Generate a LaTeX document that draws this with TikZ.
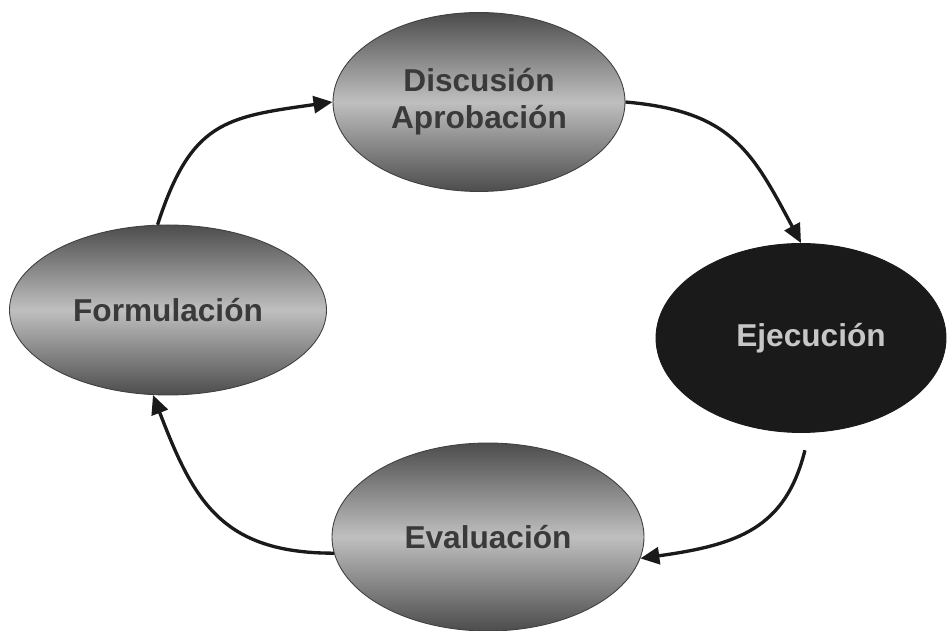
\documentclass[tikz,border=0pt]{standalone}
\usepackage{fontspec}
\setmainfont{Liberation Sans}
\usepackage{tikz}
\usetikzlibrary{arrows.meta, shapes.geometric}
\definecolor{cgray}{HTML}{3A3A3A}
\definecolor{cdark}{HTML}{1A1A1A}

\tikzset{
  stage/.style={ellipse, inner sep=0pt, line width=0.5pt, align=center,
    font=\fontsize{18}{21}\selectfont\bfseries},
  greystage/.style={stage, draw=black!75, text=cgray,
    top color=black!70, bottom color=black!70, middle color=black!25},
  darkstage/.style={stage, draw=cdark, fill=cdark, text=black!22},
  flow/.style={draw=cdark, line width=1.9pt, -{Triangle[length=0.38cm, width=0.34cm]}}
}

\begin{document}
\begin{tikzpicture}[x=1cm, y=1cm]
\useasboundingbox (0,0) rectangle (18.94,12.62);
% the four stages of the cycle
\node[greystage, minimum width=5.84cm, minimum height=3.58cm] (disc) at (9.58,10.58) {Discusión\\Aprobación};
\node[greystage, minimum width=6.34cm, minimum height=3.40cm] (form) at (3.36,6.42) {Formulación};
\node[darkstage, minimum width=5.80cm, minimum height=3.78cm] (ejec) at (16.02,5.86) {\hspace*{0.4cm}Ejecución};
\node[greystage, minimum width=6.24cm, minimum height=3.76cm] (eval) at (9.76,1.88) {Evaluación};
% arrows round the cycle
\draw[flow] (form.97) to[out=72, in=188, looseness=1.3] (disc.west);
\draw[flow] (disc.east) to[out=-5, in=118, looseness=1.2] (ejec.north);
\draw[flow, shorten <=0.36cm] (ejec.-85) to[out=-104, in=8, looseness=1.2] (eval.-8);
\draw[flow] (eval.186) to[out=180, in=-69, looseness=1.2] (form.-100);
\end{tikzpicture}
\end{document}
